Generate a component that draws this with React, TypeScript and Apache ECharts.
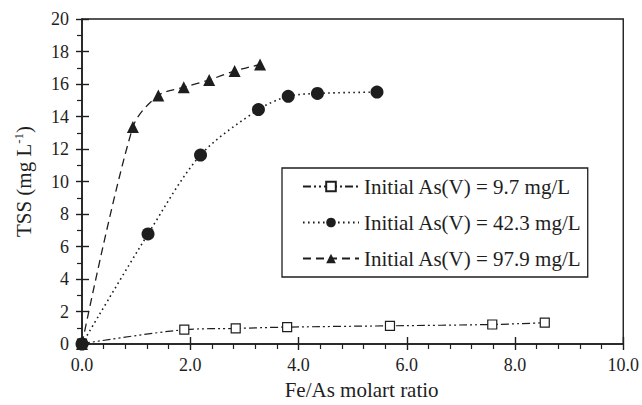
import React, { useEffect, useRef } from "react";
import * as echarts from "echarts";

const seriesNames = [
  "Initial As(V) = 9.7 mg/L",
  "Initial As(V) = 42.3 mg/L",
  "Initial As(V) = 97.9 mg/L",
];

// Fe/As molar ratio (x) and TSS mg/L (y)
const lowX = [0, 1.89, 2.84, 3.79, 5.69, 7.58, 8.55];
const lowY = [0.02, 0.88, 0.96, 1.04, 1.12, 1.2, 1.31];

const midX = [0, 1.22, 2.19, 3.26, 3.81, 4.35, 5.45];
const midY = [0, 6.77, 11.63, 14.43, 15.24, 15.42, 15.5];

const highX = [0, 0.94, 1.41, 1.88, 2.35, 2.82, 3.29];
const highY = [0, 13.35, 15.3, 15.8, 16.25, 16.8, 17.2];

const xTicks = [0, 2, 4, 6, 8, 10];
const yTicks = [0, 2, 4, 6, 8, 10, 12, 14, 16, 18, 20];

const FONT = "Liberation Serif";
const INK = "#1e1e1e";

const zip = (xs: number[], ys: number[]) => xs.map((x, i) => [x, ys[i]]);

export default function App() {
  const ref = useRef<HTMLDivElement>(null);

  useEffect(() => {
    if (!ref.current) return;
    const chart = echarts.init(ref.current, undefined, { renderer: "svg" });
    const xMin = xTicks[0];
    const xMax = xTicks[xTicks.length - 1];
    const yMin = yTicks[0];
    const yMax = yTicks[yTicks.length - 1];

    const baseX = {
      type: "value" as const,
      min: xMin,
      max: xMax,
      interval: 2,
      splitLine: { show: false },
      gridIndex: 0,
    };
    const baseY = {
      type: "value" as const,
      min: yMin,
      max: yMax,
      interval: 2,
      splitLine: { show: false },
      gridIndex: 0,
    };

    chart.setOption({
      animation: false,
      backgroundColor: "#ffffff",
      textStyle: { fontFamily: FONT },
      grid: {
        left: 82,
        right: 17,
        top: 19,
        bottom: 57,
        show: true,
        borderColor: INK,
        borderWidth: 1.4,
        containLabel: false,
      },
      xAxis: [
        {
          ...baseX,
          position: "bottom",
          axisLine: { show: true, lineStyle: { color: INK, width: 1.6 } },
          axisTick: { show: true, inside: false, length: 6, lineStyle: { color: INK, width: 1.4 } },
          minorTick: { show: true, splitNumber: 5, length: 5, lineStyle: { color: INK, width: 1.2 } },
          axisLabel: {
            show: true,
            margin: 12,
            fontFamily: FONT,
            fontSize: 18,
            color: INK,
            formatter: (v: number) => v.toFixed(1),
          },
          name: "Fe/As molart ratio",
          nameLocation: "middle",
          nameGap: 35,
          nameTextStyle: { fontFamily: FONT, fontSize: 21, color: INK, padding: [0, 0, 0, 18] },
        },
        {
          ...baseX,
          position: "bottom",
          axisLine: { show: false },
          axisTick: { show: true, inside: true, length: 7, lineStyle: { color: INK, width: 1.4 } },
          axisLabel: { show: false },
        },
      ],
      yAxis: [
        {
          ...baseY,
          position: "left",
          axisLine: { show: true, lineStyle: { color: INK, width: 1.6 } },
          axisTick: { show: true, inside: false, length: 6, lineStyle: { color: INK, width: 1.4 } },
          minorTick: { show: true, splitNumber: 2, length: 5, lineStyle: { color: INK, width: 1.2 } },
          axisLabel: { show: true, margin: 13, fontFamily: FONT, fontSize: 18, color: INK },
          name: "{a|TSS (mg L}{s|-1}{a|)}",
          nameLocation: "middle",
          nameGap: 46,
          nameRotate: 90,
          nameTextStyle: {
            fontFamily: FONT,
            color: INK,
            rich: {
              a: { fontFamily: FONT, fontSize: 21, color: INK, lineHeight: 24 },
              s: { fontFamily: FONT, fontSize: 13, color: INK, verticalAlign: "top", lineHeight: 14 },
            },
          },
        },
        {
          ...baseY,
          position: "left",
          axisLine: { show: false },
          axisTick: { show: true, inside: true, length: 7, lineStyle: { color: INK, width: 1.4 } },
          axisLabel: { show: false },
        },
      ],
      legend: {
        show: true,
        orient: "vertical",
        left: 282,
        top: 168,
        data: seriesNames,
        itemWidth: 56,
        itemHeight: 12,
        itemGap: 15,
        padding: [8, 6, 8, 20],
        borderColor: INK,
        borderWidth: 1.3,
        backgroundColor: "#ffffff",
        textStyle: { fontFamily: FONT, fontSize: 21, lineHeight: 21, color: INK },
      },
      series: [
        {
          name: seriesNames[2],
          type: "line",
          xAxisIndex: 0,
          yAxisIndex: 0,
          data: zip(highX, highY),
          smooth: 0.3,
          clip: false,
          symbol: "triangle",
          symbolSize: 12,
          itemStyle: { color: INK },
          lineStyle: { color: INK, width: 1.3, type: [8, 5] },
          z: 3,
        },
        {
          name: seriesNames[0],
          type: "line",
          xAxisIndex: 0,
          yAxisIndex: 0,
          data: zip(lowX, lowY),
          smooth: 0.3,
          clip: false,
          symbol: "rect",
          symbolSize: 9,
          itemStyle: { color: "#ffffff", borderColor: INK, borderWidth: 1.2 },
          lineStyle: { color: INK, width: 1.2, type: [8, 3, 2, 3, 2, 3] },
          z: 4,
        },
        {
          name: seriesNames[1],
          type: "line",
          xAxisIndex: 0,
          yAxisIndex: 0,
          data: zip(midX, midY),
          smooth: 0.3,
          clip: false,
          symbol: "circle",
          symbolSize: 13,
          itemStyle: { color: INK },
          lineStyle: { color: INK, width: 1.6, type: [1.6, 3.4] },
          z: 5,
        },
      ],
    });
    return () => chart.dispose();
  }, []);

  return (
    <div
      ref={ref}
      style={{ position: "absolute", left: 0, top: 0, width: 642, height: 405 }}
    />
  );
}
